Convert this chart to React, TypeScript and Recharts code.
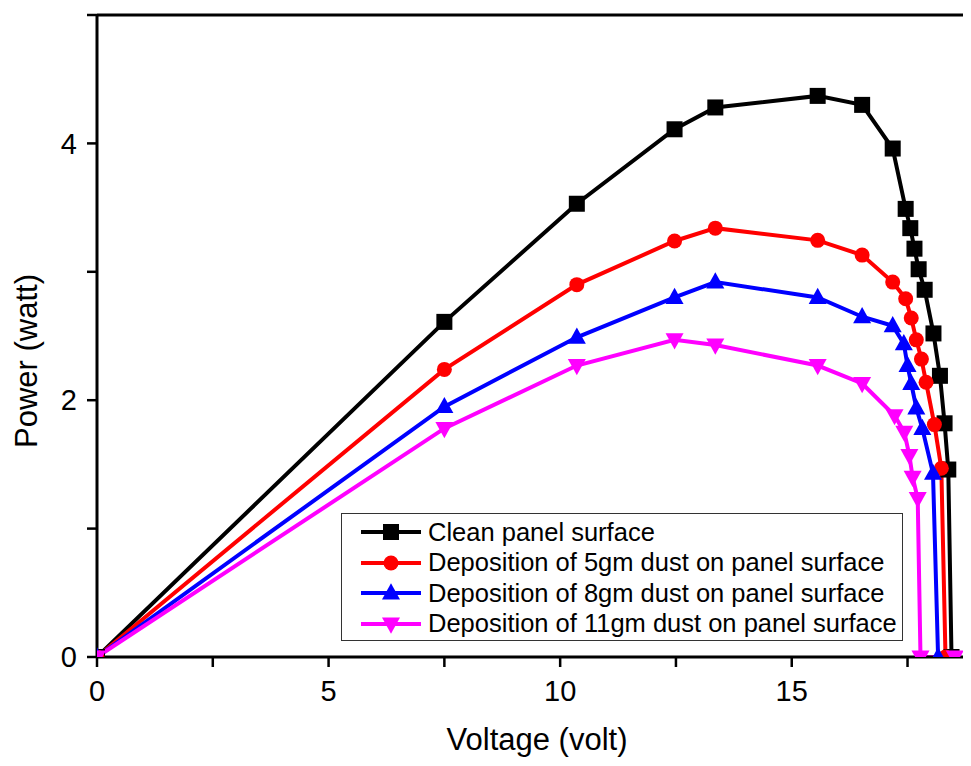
import React from "react";
import {
  LineChart,
  Line,
  XAxis,
  YAxis,
  Legend,
  ReferenceLine,
} from "recharts";

// voltage (volt) and power (watt)
const cleanVoltage = [0, 7.5, 10.36, 12.47, 13.35, 15.56, 16.52, 17.18, 17.46, 17.56, 17.65, 17.74, 17.87, 18.06, 18.2, 18.3, 18.38, 18.45];
const cleanPower = [0, 2.61, 3.53, 4.11, 4.28, 4.37, 4.3, 3.96, 3.49, 3.34, 3.18, 3.02, 2.86, 2.52, 2.19, 1.82, 1.46, 0];

const dust5Voltage = [0, 7.5, 10.36, 12.47, 13.35, 15.56, 16.52, 17.18, 17.46, 17.58, 17.69, 17.8, 17.9, 18.08, 18.23, 18.32];
const dust5Power = [0, 2.24, 2.9, 3.24, 3.34, 3.245, 3.13, 2.92, 2.79, 2.64, 2.47, 2.32, 2.14, 1.81, 1.47, 0];

const dust8Voltage = [0, 7.5, 10.36, 12.47, 13.35, 15.56, 16.52, 17.18, 17.42, 17.5, 17.58, 17.69, 17.82, 18.05, 18.16];
const dust8Power = [0, 1.95, 2.49, 2.8, 2.92, 2.8, 2.65, 2.58, 2.44, 2.27, 2.13, 1.94, 1.78, 1.43, 0];

const dust11Voltage = [0, 7.5, 10.36, 12.47, 13.35, 15.56, 16.52, 17.22, 17.43, 17.54, 17.61, 17.72, 17.78, 18.52];
const dust11Power = [0, 1.78, 2.27, 2.47, 2.43, 2.27, 2.13, 1.88, 1.75, 1.57, 1.4, 1.235, 0, 0];

const xTicks = [0, 2.5, 5, 7.5, 10, 12.5, 15, 17.5];
const yTicks = [0, 1, 2, 3, 4, 5];

const FONT = '"Liberation Sans", Arial, sans-serif';

const toPoints = (v: number[], p: number[]) => v.map((x, i) => ({ v: x, p: p[i] }));

const Square = (props: any) => {
  const { cx, cy, fill, size = 16 } = props;
  if (cx == null || cy == null) return null;
  return <rect x={cx - size / 2} y={cy - size / 2} width={size} height={size} fill={fill} />;
};

const Circle = (props: any) => {
  const { cx, cy, fill, size = 15 } = props;
  if (cx == null || cy == null) return null;
  return <circle cx={cx} cy={cy} r={size / 2} fill={fill} />;
};

const TriUp = (props: any) => {
  const { cx, cy, fill, size = 18 } = props;
  if (cx == null || cy == null) return null;
  const h = size * 0.9;
  return (
    <polygon
      points={`${cx},${cy - h * 0.6} ${cx - size / 2},${cy + h * 0.4} ${cx + size / 2},${cy + h * 0.4}`}
      fill={fill}
    />
  );
};

const TriDown = (props: any) => {
  const { cx, cy, fill, size = 18 } = props;
  if (cx == null || cy == null) return null;
  const h = size * 0.9;
  return (
    <polygon
      points={`${cx},${cy + h * 0.6} ${cx - size / 2},${cy - h * 0.4} ${cx + size / 2},${cy - h * 0.4}`}
      fill={fill}
    />
  );
};

const series = [
  { name: "Clean panel surface", color: "#000000", data: toPoints(cleanVoltage, cleanPower), Marker: Square },
  { name: "Deposition of 5gm dust on panel surface", color: "#ff0000", data: toPoints(dust5Voltage, dust5Power), Marker: Circle },
  { name: "Deposition of 8gm dust on panel surface", color: "#0000ff", data: toPoints(dust8Voltage, dust8Power), Marker: TriUp },
  { name: "Deposition of 11gm dust on panel surface", color: "#ff00ff", data: toPoints(dust11Voltage, dust11Power), Marker: TriDown },
];

const renderLegend = () => (
  <div
    style={{
      border: "1px solid #333",
      background: "#fff",
      padding: "3px 0 5px 0",
      fontFamily: FONT,
      fontSize: 25.5,
      color: "#000",
      boxSizing: "border-box",
      height: 128,
    }}
  >
    {series.map((s) => (
      <div key={s.name} style={{ display: "flex", alignItems: "center", height: 30.5, paddingLeft: 18 }}>
        <svg width={62} height={24} style={{ marginRight: 6, flex: "none" }}>
          <line x1={1} y1={12} x2={61} y2={12} stroke={s.color} strokeWidth={4} />
          <s.Marker cx={31} cy={12} fill={s.color} />
        </svg>
        <span style={{ whiteSpace: "nowrap" }}>{s.name}</span>
      </div>
    ))}
  </div>
);

// y title sits a bit below the middle of the axis, as in the source figure
const YTitle = () => {
  const x = 26;
  const y = 361;
  return (
    <text
      x={x}
      y={y}
      transform={`rotate(-90, ${x}, ${y})`}
      textAnchor="middle"
      dominantBaseline="central"
      fontFamily={FONT}
      fontSize={31}
      fill="#000"
    >
      Power (watt)
    </text>
  );
};

const App: React.FC = () => {
  return (
    <div style={{ width: 971, height: 766, margin: -8, overflow: "hidden", background: "#fff" }}>
      <LineChart width={982} height={766} margin={{ top: 15, right: 5, left: 0, bottom: 9 }}>
        <XAxis
          type="number"
          dataKey="v"
          domain={[0, 19]}
          ticks={xTicks}
          allowDataOverflow
          tickFormatter={(v: number) => (v % 5 === 0 ? String(v) : "")}
          tick={{ fontSize: 29, fill: "#000", fontFamily: FONT }}
          tickSize={10}
          tickMargin={13}
          tickLine={{ stroke: "#000", strokeWidth: 2.5 }}
          axisLine={{ stroke: "#000", strokeWidth: 3 }}
          height={100}
          label={{
            value: "Voltage (volt)",
            position: "insideBottom",
            offset: 7,
            fontSize: 31,
            fill: "#000",
            fontFamily: FONT,
          }}
        />
        <YAxis
          type="number"
          dataKey="p"
          domain={[0, 5]}
          ticks={yTicks}
          allowDataOverflow
          tickFormatter={(v: number) => (v % 2 === 0 && v < 5 ? String(v) : "")}
          tick={{ fontSize: 29, fill: "#000", fontFamily: FONT }}
          tickSize={10}
          tickMargin={10}
          tickLine={{ stroke: "#000", strokeWidth: 2.5 }}
          axisLine={{ stroke: "#000", strokeWidth: 3 }}
          width={97}
          label={<YTitle />}
        />
        <ReferenceLine y={5} stroke="#000" strokeWidth={3} />
        <Legend
          content={renderLegend}
          layout="horizontal"
          align="center"
          verticalAlign="middle"
          wrapperStyle={{ left: 341, top: 513, width: 562 }}
        />
        {series.map((s) => (
          <Line
            key={s.name}
            name={s.name}
            data={s.data}
            dataKey="p"
            type="linear"
            stroke={s.color}
            strokeWidth={4}
            dot={<s.Marker fill={s.color} />}
            activeDot={false}
            isAnimationActive={false}
          />
        ))}
      </LineChart>
    </div>
  );
};

export default App;
